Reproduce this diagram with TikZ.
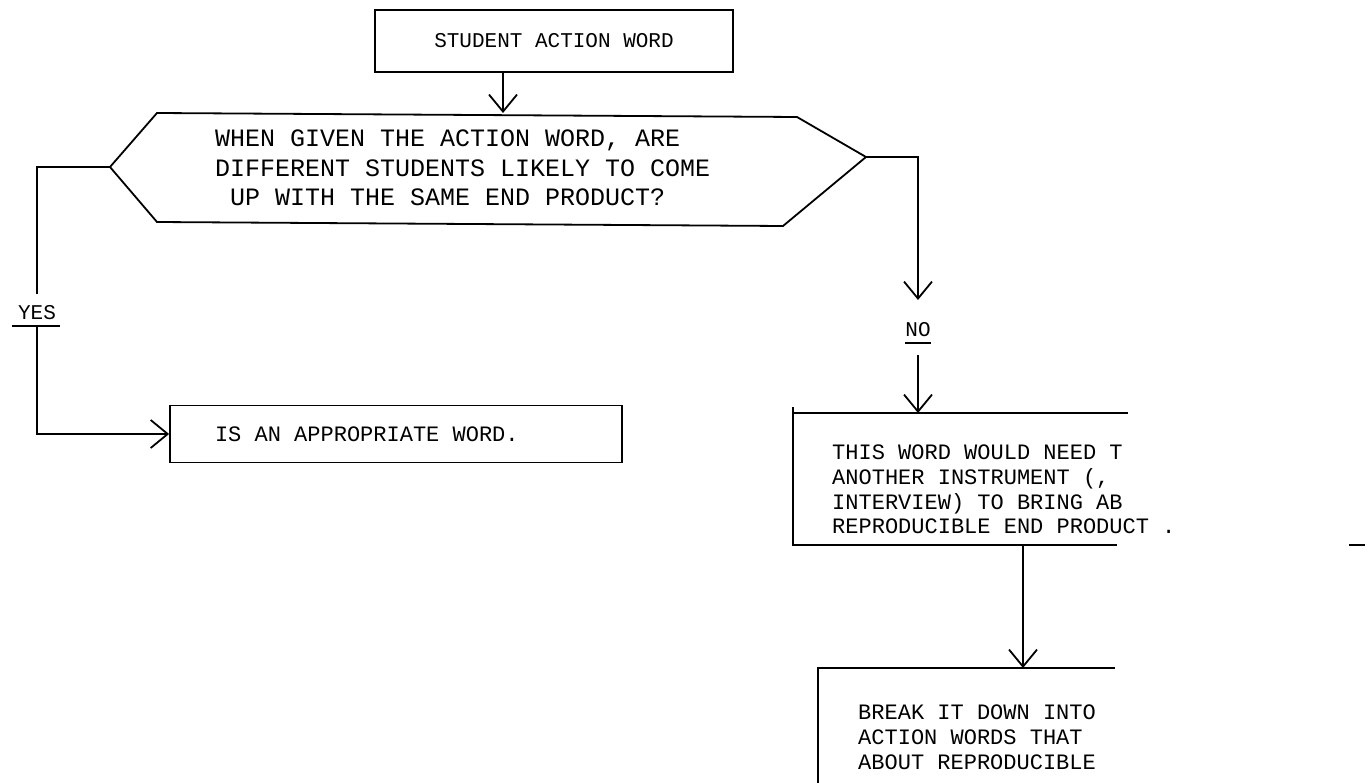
\documentclass[tikz,border=0pt]{standalone}
\usepackage{fontspec}
\setmonofont{Liberation Mono}
\usetikzlibrary{arrows.meta}
\begin{document}
\begin{tikzpicture}[x=1pt,y=-1pt,
  line/.style={line width=1.8pt},
  flow/.style={line, -{Straight Barb[length=17pt,width=28pt,line width=1.8pt]}},
  txt/.style={font=\ttfamily\fontsize{21}{29.5}\selectfont, inner sep=0pt},
  txtq/.style={font=\ttfamily\fontsize{25}{29.5}\selectfont, inner sep=0pt, align=left, anchor=north west},
  txtb/.style={font=\ttfamily\fontsize{22}{24.6}\selectfont, inner sep=0pt, align=left, anchor=north west},
  box/.style={draw, line width=1.8pt, rectangle, inner sep=0pt}]
\useasboundingbox (0,0) rectangle (1372,783);

% start box
\node[box, txt, minimum width=358pt, minimum height=62pt] (start) at (554,41) {STUDENT ACTION WORD};

% decision hexagon
\coordinate (hTL) at (157,113);
\coordinate (hL)  at (110,167);
\coordinate (hBL) at (157,222);
\coordinate (hBR) at (783,226);
\coordinate (hR)  at (866,157);
\coordinate (hTR) at (797,117);
\coordinate (hTop) at (503,113);
\draw[line] (hTL) -- (hTR) -- (hR) -- (hBR) -- (hBL) -- (hL) -- cycle;
\node[txtq] (question) at (215,130)
  {WHEN GIVEN THE ACTION WORD, ARE\\DIFFERENT STUDENTS LIKELY TO COME\\\ UP WITH THE SAME END PRODUCT?};
\draw[flow] (start.south -| hTop) -- (hTop);

% YES branch
\node[txt] (yes) at (37,313) {YES};
\coordinate (yesUL) at (12,326);
\coordinate (yesUR) at (60,326);
\coordinate (yesUp) at (37,294);
\coordinate (yesDown) at (37,326);
\draw[line] (yesUL) -- (yesUR);
\draw[line] (hL) -| (yesUp);
\node[box, font=\ttfamily\fontsize{22}{26}\selectfont, minimum width=452pt, minimum height=57pt,
      inner xsep=45pt] (appropriate) at (396,434)
  {\makebox[362pt][l]{IS AN APPROPRIATE WORD.}};
\draw[flow] (yesDown) |- (appropriate.west);

% NO branch
\node[txt] (no) at (918,330) {NO};
\coordinate (noUp) at (918,300);
\coordinate (noUL) at (905,343);
\coordinate (noUR) at (931,343);
\coordinate (noDown) at (918,355);
\draw[line] (noUL) -- (noUR);
\draw[flow] (hR) -| (noUp);

% second box, open on the right
\coordinate (mTL) at (793,413);
\coordinate (mBL) at (793,545);
\coordinate (mTR) at (1128,413);
\coordinate (mBR) at (1117,545);
\coordinate (mOut) at (1023,545);
\draw[line] (mTR) -- (mTL) -- ([yshift=6pt]mTL) -- (mBL) -- (mBR);
\draw[line] (1349,545) -- (1365,545);
\node[txtb] (need) at (832,445)
  {THIS WORD WOULD NEED T\\ANOTHER INSTRUMENT (,\\INTERVIEW) TO BRING AB\\REPRODUCIBLE END PRODUCT .};
\draw[flow] (noDown) -- (noDown |- mTL);

% third box, open on the right and below
\coordinate (bTL) at (818,668);
\coordinate (bTR) at (1115,668);
\coordinate (bBL) at (818,783);
\draw[line] (bTR) -- (bTL) -- (bBL);
\node[txtb] (breakdown) at (858,705)
  {BREAK IT DOWN INTO\\ACTION WORDS THAT\\ABOUT REPRODUCIBLE};
\draw[flow] (mOut) -- (mOut |- bTL);
\end{tikzpicture}
\end{document}
